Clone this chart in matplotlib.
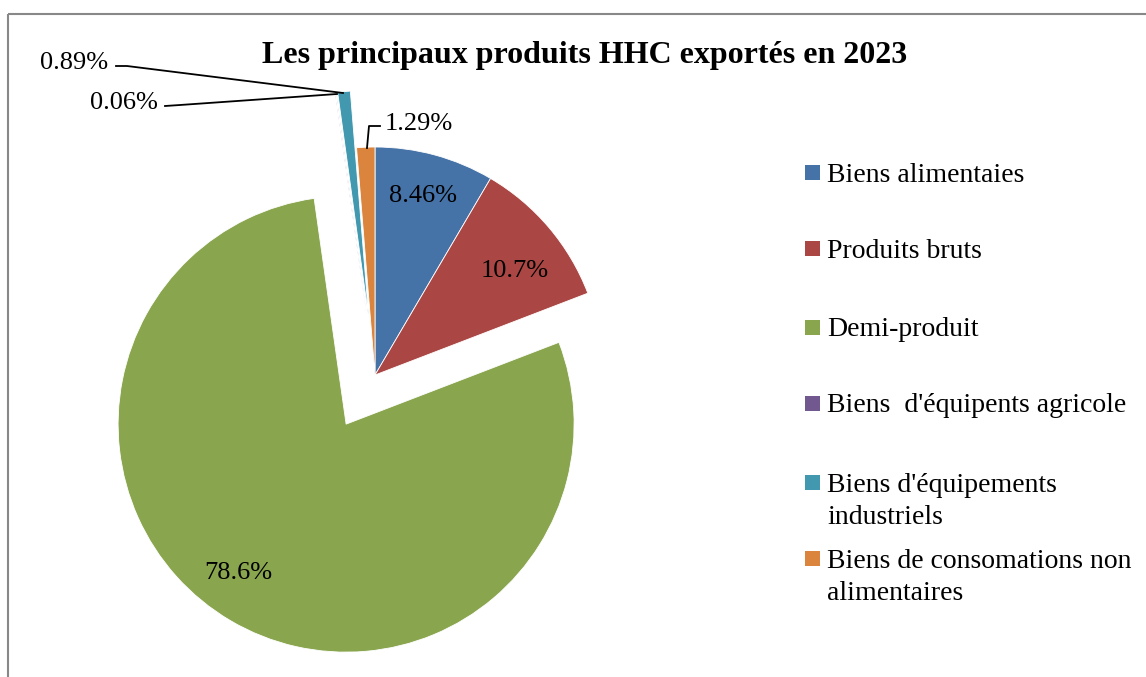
import matplotlib
matplotlib.use("Agg")
import matplotlib.pyplot as plt
from matplotlib.patches import Rectangle

categories = ["Biens alimentaies", "Produits bruts", "Demi-produit",
              "Biens  d'équipents agricole", "Biens d'équipements\nindustriels",
              "Biens de consomations non\nalimentaires"]
values = [8.46, 10.7, 78.6, 0.06, 0.89, 1.29]
value_labels = ["8.46%", "10.7%", "78.6%", "0.06%", "0.89%", "1.29%"]
colors = ["#4572A7", "#AA4643", "#89A54E", "#71588F", "#4198AF", "#DB843D"]
explode_frac = [0, 0, 0.25, 0.25, 0.25, 0]
title = "Les principaux produits HHC exportés en 2023"

W, H = 1146, 677
plt.rcParams['font.family'] = ['Liberation Serif', 'DejaVu Serif']
fig = plt.figure(figsize=(W / 100, H / 100), dpi=100)
ax = fig.add_axes([0, 0, 1, 1])

def Y(y):
    return H - y

R = 228
cx, cy = 375, Y(375)
wedges, _ = ax.pie(values, colors=colors, startangle=90, counterclock=False,
                   radius=R, center=(cx, cy),
                   explode=[e * R for e in explode_frac],
                   wedgeprops=dict(edgecolor="white", linewidth=0.6), frame=True)
ax.set_xlim(0, W)
ax.set_ylim(0, H)
ax.set_aspect("equal")
ax.axis("off")

fs = 19
dy = 3  # baseline correction
# inside labels
ax.text(423, Y(193 + dy), value_labels[0], ha="center", va="center", fontsize=fs)
ax.text(515, Y(268 + dy), value_labels[1], ha="center", va="center", fontsize=fs)
ax.text(238, Y(570 + dy), value_labels[2], ha="center", va="center", fontsize=fs)

# outside labels with leader lines
ax.plot([367, 369, 380], [Y(148), Y(126), Y(126)], color="black", lw=1.3)
ax.text(385, Y(121 + dy), value_labels[5], ha="left", va="center", fontsize=fs)
ax.plot([165, 180, 337], [Y(106), Y(105), Y(94)], color="black", lw=1.3)
ax.text(158, Y(100 + dy), value_labels[3], ha="right", va="center", fontsize=fs)
ax.plot([116, 127, 343], [Y(66), Y(66), Y(93)], color="black", lw=1.3)
ax.text(108, Y(60 + dy), value_labels[4], ha="right", va="center", fontsize=fs)

# title
ax.text(585, Y(53 + dy), title, ha="center", va="center", fontsize=23, fontweight="bold")

# legend
lfs = 20
leg_y = [172, 248, 327, 403, 482, 558]
for c, lab, yy in zip(colors, categories, leg_y):
    ax.add_patch(Rectangle((805, Y(yy) - 7.5), 15, 15, facecolor=c, edgecolor="none"))
    for i, line in enumerate(lab.split("\n")):
        ax.text(827, Y(yy + 32 * i + dy), line, ha="left", va="center", fontsize=lfs)

# border
ax.add_patch(Rectangle((8, Y(14)), W, -(H), fill=False, edgecolor="#888888", lw=1.5,
                       clip_on=False))

fig.savefig("out.png", dpi=100)
